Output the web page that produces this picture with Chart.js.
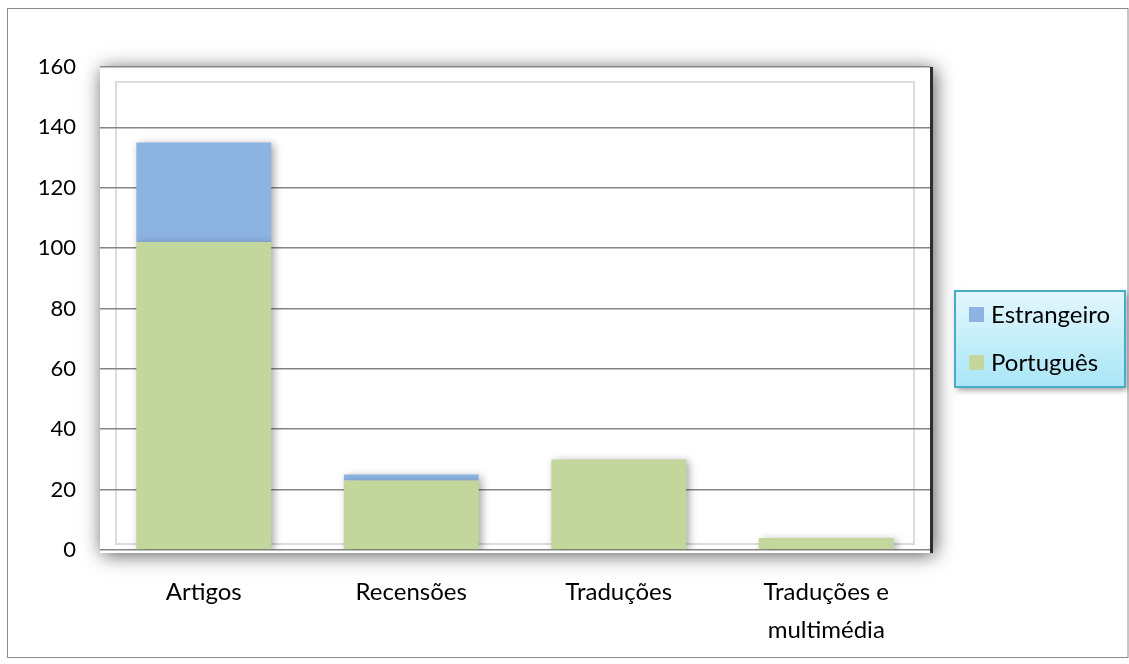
<!DOCTYPE html>
<html><head><meta charset="utf-8">
<script src="https://cdn.jsdelivr.net/npm/chart.js@4/dist/chart.umd.min.js"></script>
<style>html,body{margin:0;padding:0;background:#fff}#wrap{width:1129px;height:664px}</style>
</head><body><div id="wrap"><canvas id="c" width="1129" height="664"></canvas></div>
<script>
const categories = ['Artigos', 'Recensões', 'Traduções', ['Traduções e', 'multimédia']];
const portugues = [102, 23, 30, 4];
const estrangeiro = [33, 2, 0, 0];
const yTicks = [0, 20, 40, 60, 80, 100, 120, 140, 160];

const FONT = 'Lato, "Open Sans", sans-serif';

const framePlugin = {
  id: 'frame',
  beforeDraw(chart) {
    const ctx = chart.ctx, a = chart.chartArea;
    ctx.save();
    ctx.fillStyle = '#fff';
    ctx.fillRect(0, 0, chart.width, chart.height);
    ctx.strokeStyle = '#8c8c8c';
    ctx.lineWidth = 1;
    ctx.strokeRect(7.5, 8.5, chart.width - 8.5, chart.height - 15);
    ctx.shadowColor = 'rgba(0,0,0,0.65)';
    ctx.shadowBlur = 18;
    ctx.shadowOffsetX = 2;
    ctx.shadowOffsetY = 2;
    ctx.fillStyle = '#fff';
    ctx.fillRect(a.left, a.top, a.right - a.left + 3, a.bottom - a.top + 3);
    ctx.restore();
    ctx.save();
    ctx.strokeStyle = '#2e2e2e';
    ctx.lineWidth = 3;
    ctx.beginPath();
    ctx.moveTo(a.right + 1.5, a.top);
    ctx.lineTo(a.right + 1.5, a.bottom + 3);
    ctx.stroke();
    ctx.strokeStyle = '#dcdcdc';
    ctx.lineWidth = 2;
    ctx.strokeRect(a.left + 16, a.top + 15, (a.right - 16) - (a.left + 16), (a.bottom - 6) - (a.top + 15));
    ctx.restore();
  },
  beforeDatasetsDraw(chart) {
    const ctx = chart.ctx;
    ctx.save();
    ctx.shadowColor = 'rgba(0,0,0,0.35)';
    ctx.shadowBlur = 8;
    ctx.shadowOffsetX = 3;
    ctx.shadowOffsetY = 2;
  },
  afterDatasetsDraw(chart) {
    chart.ctx.restore();
  },
  afterDraw(chart) {
    const ctx = chart.ctx;
    const x = 955, y = 291, w = 170, h = 96;
    ctx.save();
    ctx.shadowColor = 'rgba(0,0,0,0.4)';
    ctx.shadowBlur = 6;
    ctx.shadowOffsetX = 2;
    ctx.shadowOffsetY = 3;
    const g = ctx.createLinearGradient(0, y, 0, y + h);
    g.addColorStop(0, '#e3f7fd');
    g.addColorStop(1, '#a9e6f7');
    ctx.fillStyle = g;
    ctx.fillRect(x, y, w, h);
    ctx.restore();
    ctx.save();
    ctx.strokeStyle = '#4bacc6';
    ctx.lineWidth = 2;
    ctx.strokeRect(x, y, w, h);
    const ds = chart.data.datasets.slice().reverse();
    ctx.font = '24px ' + FONT;
    ctx.textBaseline = 'middle';
    ds.forEach((d, i) => {
      const cy = 315 + i * 48;
      ctx.fillStyle = d.backgroundColor;
      ctx.fillRect(969, cy - 8, 15, 15);
      ctx.fillStyle = '#000';
      ctx.fillText(d.label, 991, cy);
    });
    ctx.restore();
  }
};

new Chart(document.getElementById('c'), {
  type: 'bar',
  data: {
    labels: categories,
    datasets: [
      { label: 'Português', data: portugues, backgroundColor: '#c3d69b' },
      { label: 'Estrangeiro', data: estrangeiro, backgroundColor: '#8db3e2' }
    ]
  },
  options: {
    responsive: false,
    animation: false,
    events: [],
    layout: { padding: { left: 7, top: 67, right: 199, bottom: 10 } },
    plugins: { legend: { display: false }, tooltip: { enabled: false } },
    datasets: { bar: { categoryPercentage: 0.65, barPercentage: 1 } },
    scales: {
      x: {
        stacked: true,
        grid: { display: false, drawTicks: false },
        border: { display: false },
        ticks: { color: '#000', font: { family: FONT, size: 24, lineHeight: 1.55 }, padding: 24, maxRotation: 0, autoSkip: false },
        afterFit(s) { s.height = 104; }
      },
      y: {
        stacked: true,
        min: 0, max: 160,
        afterBuildTicks(s) { s.ticks = yTicks.map(v => ({ value: v })); },
        grid: { color: '#858585', lineWidth: 1.6, drawTicks: false },
        border: { display: false },
        ticks: { color: '#000', font: { family: FONT, size: 22 }, padding: 24 },
        afterFit(s) { s.width = 93; }
      }
    }
  },
  plugins: [framePlugin]
});
</script>
</body></html>
